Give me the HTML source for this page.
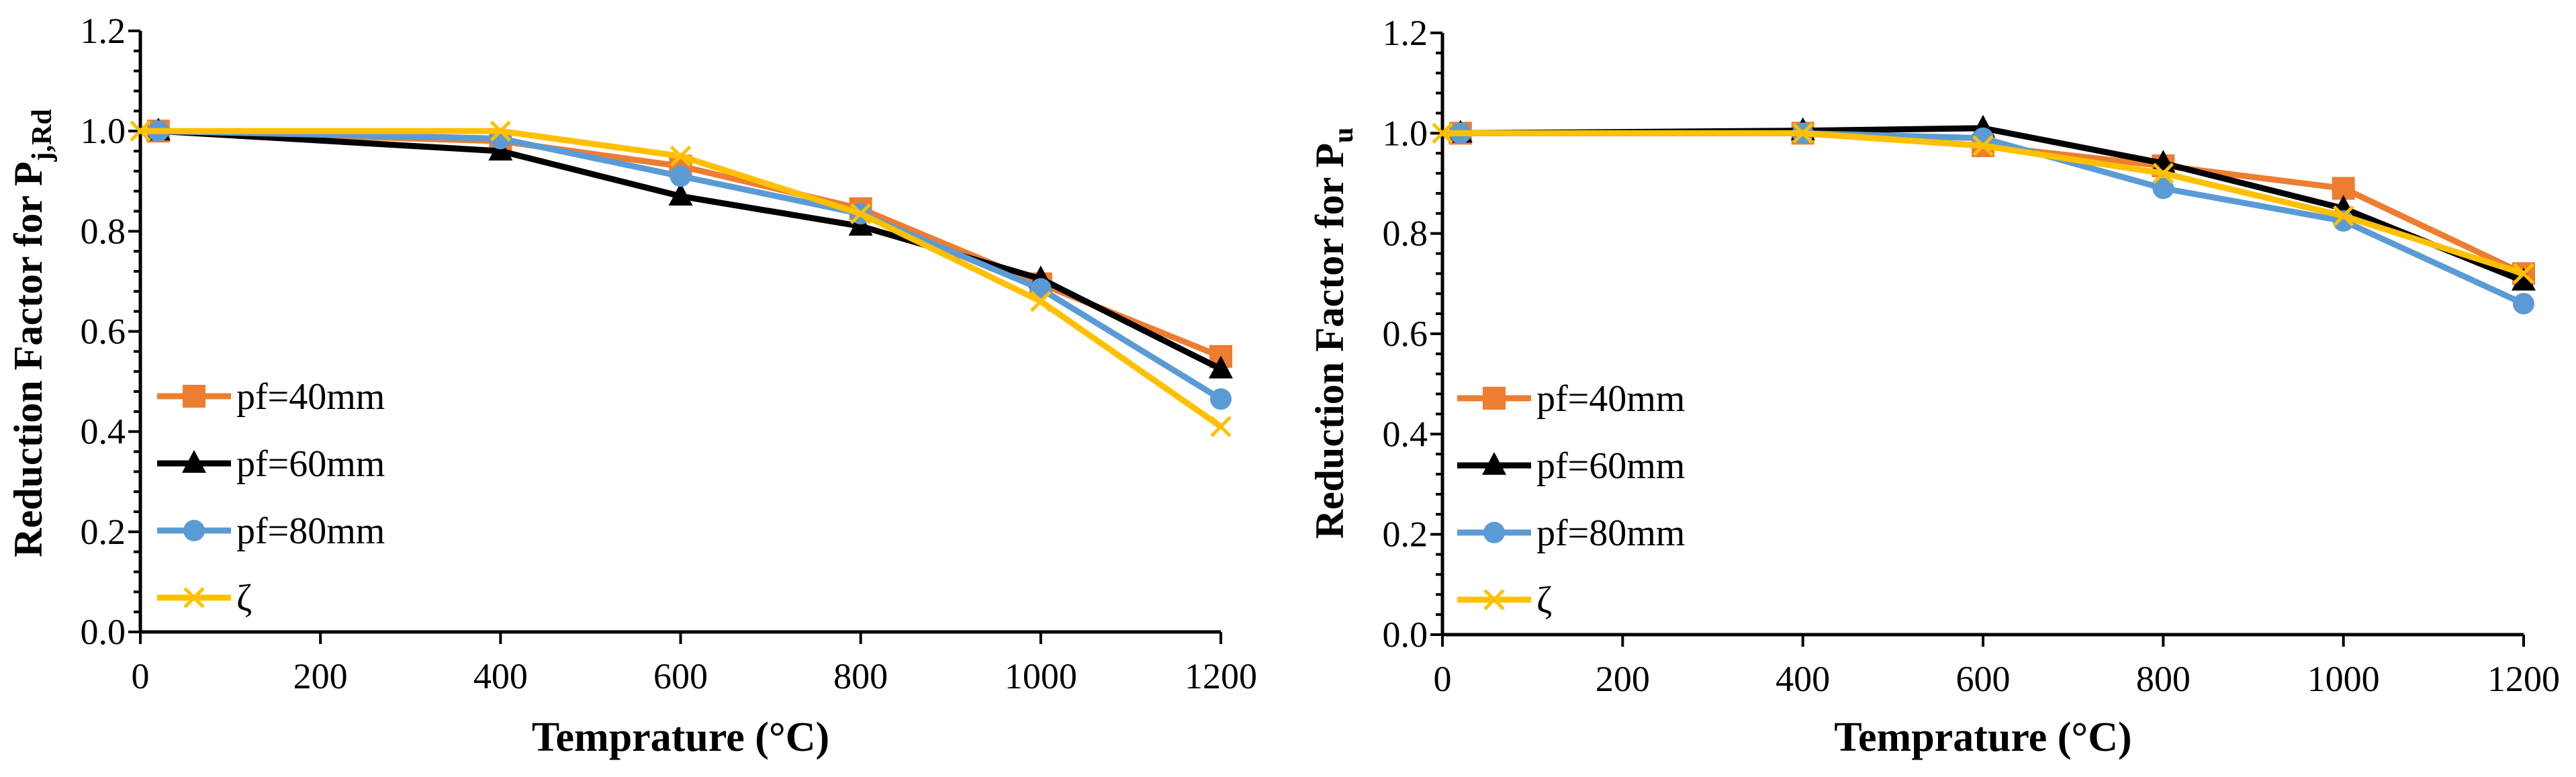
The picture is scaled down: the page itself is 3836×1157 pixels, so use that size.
<!DOCTYPE html>
<html><head><meta charset="utf-8"><style>
html,body{margin:0;padding:0;background:#fff;}
svg, svg text{font-family:"Liberation Serif","Times New Roman",serif;}
</style></head><body>
<svg id="c" width="3836" height="1152" viewBox="0 0 3836 1152" xmlns="http://www.w3.org/2000/svg" font-family="Liberation Serif, serif"></svg>
<script>
const seriesNames = ["pf=40mm","pf=60mm","pf=80mm","ζ"];
const xPf = [20,400,600,800,1000,1200];
const xZeta = [0,400,600,800,1000,1200];
const leftPf40 = [1.0,0.98,0.93,0.845,0.695,0.55];
const leftPf60 = [1.0,0.96,0.87,0.81,0.705,0.525];
const leftPf80 = [1.0,0.985,0.91,0.835,0.685,0.465];
const leftZeta = [1.0,1.0,0.95,0.835,0.66,0.41];
const rightPf40 = [1.0,1.0,0.975,0.935,0.89,0.72];
const rightPf60 = [1.0,1.005,1.01,0.94,0.85,0.705];
const rightPf80 = [1.0,1.0,0.99,0.89,0.825,0.66];
const rightZeta = [1.0,1.0,0.975,0.92,0.835,0.72];
const xTicks = [0,200,400,600,800,1000,1200];
const yTicks = ["0.0","0.2","0.4","0.6","0.8","1.0","1.2"];

const NS="http://www.w3.org/2000/svg";
const FF="Liberation Serif, serif";
const svg=document.getElementById('c');
function mk(tag,attrs,parent){const e=document.createElementNS(NS,tag);for(const k in attrs)e.setAttribute(k,attrs[k]);if(tag==='text')e.setAttribute('font-family',FF);(parent||svg).appendChild(e);return e;}
const colors=["#ED7D31","#000000","#5B9BD5","#FFC000"];

function chart(cfg){
  const g=mk('g',{'font-family':FF});
  
  
  const X=v=>cfg.x0+(v/1200)*(cfg.x1-cfg.x0);
  const Y=v=>cfg.y0-(v/1.2)*(cfg.y0-cfg.y1);
  const ya=mk('line',{x1:cfg.x0,y1:cfg.y1,x2:cfg.x0,y2:cfg.y0,stroke:'#000','stroke-width':5},g);
  
  const xa=mk('line',{x1:cfg.x0,y1:cfg.y0,x2:cfg.x1,y2:cfg.y0,stroke:'#000','stroke-width':5},g);
  
  for(let i=0;i<=30;i++){const v=i*0.04;const len=(i%5===0)?18:10;
    mk('line',{x1:cfg.x0-len,y1:Y(v),x2:cfg.x0,y2:Y(v),stroke:'#000','stroke-width':4},g);}
  yTicks.forEach(t=>{const el=mk('text',{x:cfg.x0-22,y:Y(parseFloat(t))+18,'text-anchor':'end','font-size':54},g);el.textContent=t;
    });
  xTicks.forEach(t=>{mk('line',{x1:X(t),y1:cfg.y0,x2:X(t),y2:cfg.y0+18,stroke:'#000','stroke-width':4},g);
    const el=mk('text',{x:X(t),y:cfg.y0+84,'text-anchor':'middle','font-size':54},g);el.textContent=t;
    });
  const xt=mk('text',{x:(cfg.x0+cfg.x1)/2,y:1118,'text-anchor':'middle','font-size':62,'font-weight':'bold'},g);
  xt.textContent='Temprature (°C)';
  
  const yt=mk('text',{transform:`translate(${cfg.tx},496) rotate(-90)`,'text-anchor':'middle','font-size':60,'font-weight':'bold'},g);
  
  yt.appendChild(document.createTextNode('Reduction Factor for P'));
  const sub=mk('tspan',{'font-size':42,dy:14},yt);sub.textContent=cfg.sub;
  cfg.data.forEach((d,i)=>{
    const xs=(i===3)?xZeta:xPf;
    const sg=mk('g',{},g);
    
    
    mk('polyline',{points:d.map((v,j)=>X(xs[j])+','+Y(v)).join(' '),fill:'none',stroke:colors[i],'stroke-width':9,'stroke-linejoin':'round'},sg);
    d.forEach((v,j)=>marker(sg,i,X(xs[j]),Y(v)));
  });
  seriesNames.forEach((n,i)=>{
    const ly=cfg.ly0+i*100;
    const lg=mk('g',{},g);
    
    
    mk('line',{x1:cfg.lx,y1:ly,x2:cfg.lx+110,y2:ly,stroke:colors[i],'stroke-width':9},lg);
    marker(lg,i,cfg.lx+55,ly);
    const t=mk('text',{x:cfg.lx+118,y:ly+19,'font-size':56},lg);t.textContent=n;
  });
}
function marker(p,i,x,y){
  let m;
  if(i===0)m=mk('rect',{x:x-17,y:y-17,width:34,height:34,fill:colors[0]},p);
  else if(i===1)m=mk('polygon',{points:`${x},${y-20} ${x+18},${y+14} ${x-18},${y+14}`,fill:'#000'},p);
  else if(i===2)m=mk('circle',{cx:x,cy:y,r:16,fill:colors[2]},p);
  else{m=mk('path',{d:`M${x-14},${y-14}L${x+14},${y+14}M${x-14},${y+14}L${x+14},${y-14}`,stroke:colors[3],'stroke-width':5},p);}
  
  
}
chart({name:'left-chart',x0:209,x1:1818,y0:941,y1:46,tx:62,sub:'j,Rd',lx:234,ly0:590,
  data:[leftPf40,leftPf60,leftPf80,leftZeta]});
chart({name:'right-chart',x0:2148,x1:3758,y0:945,y1:49,tx:2000,sub:'u',lx:2170,ly0:593,
  data:[rightPf40,rightPf60,rightPf80,rightZeta]});
</script>
</body></html>
